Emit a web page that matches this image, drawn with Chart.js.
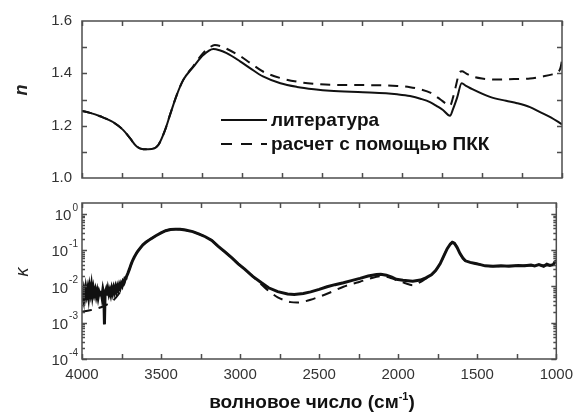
<!DOCTYPE html>
<html>
<head>
<meta charset="utf-8">
<script src="https://cdn.jsdelivr.net/npm/chart.js@4/dist/chart.umd.min.js"></script>
<style>
  body { margin: 0; background: #fff; }
  #wrap { position: relative; width: 580px; height: 416px; font-family: "Liberation Sans", Arial, sans-serif; }
  canvas { position: absolute; left: 0; }
  #chart-n { top: 0; }
  #chart-k { top: 190px; }
  .ytitle { position: absolute; transform: translate(-50%, -50%) rotate(-90deg); color: #222; white-space: nowrap; }
  #title-n { left: 21px; top: 90px; font: italic bold 18px "Liberation Sans", Arial, sans-serif; }
  #title-k { left: 22px; top: 272px; font: italic 18px "Liberation Sans", Arial, sans-serif; }
  #xtitle { position: absolute; left: 0; width: 624px; top: 391px; text-align: center; font: bold 19px "Liberation Sans", Arial, sans-serif; line-height: 22px; color: #111; }
  #xtitle sup { font-size: 11px; line-height: 0; vertical-align: 8px; }
</style>
</head>
<body>
<div id="wrap">
  <canvas id="chart-n" width="580" height="190"></canvas>
  <canvas id="chart-k" width="580" height="226"></canvas>
  <div class="ytitle" id="title-n">n</div>
  <div class="ytitle" id="title-k">κ</div>
  <div id="xtitle">волновое число (см<sup>-1</sup>)</div>
</div>
<script>
// подписи и деления осей
const wavenumberTicks = [4000, 3500, 3000, 2500, 2000, 1500, 1000];
const nTicks = [1.0, 1.2, 1.4, 1.6];
const kappaExponents = [0, -1, -2, -3, -4];
const seriesLabels = ['литература', 'расчет с помощью ПКК'];

// показатель преломления n, литературные данные
const nLitWave = [4000, 3950, 3887, 3804, 3742, 3700, 3658, 3617, 3564, 3523, 3481, 3450, 3408, 3367, 3304, 3242, 3179, 3140, 3096, 3012, 2950, 2869, 2760, 2656, 2550, 2450, 2244, 2100, 2031, 1950, 1880, 1825, 1780, 1744, 1700, 1680, 1656, 1627, 1600, 1575, 1450, 1350, 1281, 1200, 1137, 1070, 1000];
const nLit = [1.256, 1.249, 1.236, 1.213, 1.183, 1.152, 1.120, 1.110, 1.111, 1.126, 1.183, 1.241, 1.317, 1.375, 1.425, 1.470, 1.493, 1.488, 1.477, 1.446, 1.420, 1.388, 1.362, 1.348, 1.339, 1.333, 1.328, 1.324, 1.320, 1.313, 1.302, 1.290, 1.274, 1.260, 1.238, 1.265, 1.306, 1.362, 1.352, 1.344, 1.310, 1.295, 1.286, 1.271, 1.252, 1.232, 1.205];

// n, расчет с помощью ПКК
const nCalcWave = [4000, 3950, 3887, 3804, 3742, 3700, 3658, 3617, 3564, 3523, 3481, 3450, 3408, 3367, 3304, 3242, 3200, 3170, 3130, 3096, 3012, 2950, 2869, 2760, 2656, 2550, 2450, 2244, 2031, 1950, 1880, 1820, 1760, 1720, 1700, 1680, 1660, 1645, 1625, 1600, 1560, 1500, 1400, 1300, 1200, 1120, 1060, 1025, 1010, 1000];
const nCalc = [1.256, 1.249, 1.236, 1.213, 1.183, 1.152, 1.120, 1.110, 1.111, 1.126, 1.183, 1.241, 1.317, 1.375, 1.428, 1.478, 1.500, 1.508, 1.503, 1.494, 1.466, 1.440, 1.407, 1.382, 1.368, 1.360, 1.356, 1.355, 1.352, 1.347, 1.338, 1.325, 1.300, 1.282, 1.276, 1.310, 1.360, 1.398, 1.408, 1.400, 1.388, 1.380, 1.376, 1.378, 1.380, 1.388, 1.396, 1.405, 1.420, 1.450];

// показатель поглощения κ, литературные данные (зашумленный спектр)
const kLitWave = [4000, 3994, 3988, 3982, 3976, 3970, 3964, 3958, 3952, 3946, 3940, 3934, 3928, 3922, 3916, 3910, 3904, 3898, 3892, 3886, 3880, 3874, 3868, 3862, 3858, 3854, 3848, 3842, 3836, 3830, 3824, 3818, 3812, 3806, 3800, 3794, 3788, 3782, 3776, 3770, 3764, 3758, 3752, 3746, 3740, 3734, 3728, 3722, 3716, 3710, 3700, 3690, 3680, 3669, 3650, 3637, 3615, 3596, 3565, 3533, 3500, 3471, 3440, 3408, 3380, 3346, 3300, 3262, 3220, 3179, 3140, 3096, 3050, 3012, 2971, 2920, 2867, 2820, 2762, 2700, 2658, 2600, 2554, 2500, 2450, 2400, 2346, 2290, 2242, 2190, 2137, 2110, 2075, 2040, 2012, 1970, 1908, 1860, 1825, 1790, 1762, 1735, 1710, 1690, 1670, 1658, 1645, 1627, 1610, 1590, 1575, 1545, 1512, 1480, 1450, 1400, 1350, 1300, 1242, 1200, 1160, 1137, 1110, 1080, 1060, 1040, 1020, 1010, 1000];
const kLit = [0.0062, 0.0048, 0.0078, 0.0055, 0.0090, 0.0060, 0.0085, 0.0052, 0.0095, 0.0066, 0.0105, 0.0058, 0.0088, 0.0062, 0.0080, 0.0055, 0.0074, 0.0050, 0.0070, 0.0058, 0.0076, 0.0052, 0.0082, 0.0060, 0.0009, 0.0065, 0.0080, 0.0056, 0.0084, 0.0062, 0.0078, 0.0060, 0.0086, 0.0066, 0.0090, 0.0070, 0.0095, 0.0074, 0.0100, 0.0082, 0.0110, 0.0092, 0.0120, 0.0105, 0.0140, 0.0130, 0.0170, 0.0175, 0.0200, 0.0230, 0.030, 0.040, 0.052, 0.065, 0.090, 0.107, 0.140, 0.165, 0.205, 0.250, 0.300, 0.345, 0.370, 0.380, 0.378, 0.362, 0.325, 0.280, 0.235, 0.185, 0.130, 0.090, 0.060, 0.042, 0.030, 0.019, 0.0128, 0.0092, 0.0072, 0.0062, 0.0060, 0.0064, 0.0071, 0.0083, 0.0098, 0.0112, 0.0127, 0.0147, 0.0167, 0.0195, 0.0213, 0.0218, 0.0205, 0.0180, 0.0158, 0.0148, 0.0140, 0.0150, 0.0172, 0.0210, 0.0280, 0.0420, 0.0720, 0.110, 0.148, 0.165, 0.155, 0.118, 0.082, 0.060, 0.051, 0.046, 0.043, 0.040, 0.037, 0.036, 0.037, 0.036, 0.038, 0.037, 0.039, 0.037, 0.040, 0.036, 0.041, 0.038, 0.040, 0.046, 0.052];

// κ, расчет с помощью ПКК
const kCalcWave = [4000, 3950, 3900, 3867, 3830, 3800, 3770, 3745, 3725, 3710, 3700, 3690, 3680, 3669, 3650, 3637, 3615, 3596, 3565, 3533, 3500, 3471, 3440, 3408, 3380, 3346, 3300, 3262, 3220, 3179, 3140, 3096, 3050, 3012, 2971, 2920, 2880, 2840, 2800, 2762, 2720, 2680, 2640, 2600, 2554, 2500, 2450, 2400, 2346, 2290, 2242, 2190, 2137, 2100, 2060, 2012, 1960, 1908, 1860, 1825, 1790, 1762, 1735, 1710, 1690, 1670, 1658, 1645, 1627, 1610, 1590, 1575, 1545, 1512, 1480, 1450, 1400, 1300, 1200, 1100, 1000];
const kCalc = [0.0020, 0.0022, 0.0025, 0.0028, 0.0034, 0.0042, 0.0060, 0.0090, 0.0150, 0.0220, 0.030, 0.040, 0.052, 0.065, 0.090, 0.107, 0.140, 0.165, 0.205, 0.250, 0.300, 0.345, 0.370, 0.380, 0.378, 0.362, 0.325, 0.280, 0.235, 0.185, 0.130, 0.090, 0.060, 0.042, 0.030, 0.019, 0.0130, 0.0090, 0.0065, 0.0050, 0.0042, 0.0037, 0.0036, 0.0038, 0.0043, 0.0052, 0.0063, 0.0078, 0.0098, 0.0118, 0.0135, 0.0160, 0.0185, 0.0192, 0.0180, 0.0150, 0.0125, 0.0108, 0.0132, 0.0165, 0.0210, 0.0280, 0.0420, 0.0720, 0.110, 0.148, 0.165, 0.155, 0.118, 0.082, 0.060, 0.051, 0.046, 0.043, 0.040, 0.037, 0.036, 0.037, 0.038, 0.038, 0.039];

const FONT = '"Liberation Sans", Arial, sans-serif';
const AXIS_COLOR = '#4d4d4d';
const DASH = [10, 7];

const toPoints = (xs, ys) => xs.map((x, i) => ({ x, y: ys[i] }));

// рамка и внутренние засечки по всем четырем сторонам
const frameTicks = {
    id: 'frameTicks',
    afterDatasetsDraw(chart, args, opts) {
        const { ctx, chartArea: a, scales: { x, y } } = chart;
        ctx.save();
        ctx.strokeStyle = AXIS_COLOR;
        ctx.lineWidth = 1.5;
        ctx.beginPath();
        for (let v = 1000; v <= 4000; v += 250) {
            const px = Math.round(x.getPixelForValue(v)) + 0.5;
            ctx.moveTo(px, a.top); ctx.lineTo(px, a.top + 5);
            ctx.moveTo(px, a.bottom); ctx.lineTo(px, a.bottom - 5);
        }
        opts.yMarks.forEach(([v, len]) => {
            const py = Math.round(y.getPixelForValue(v)) + 0.5;
            ctx.moveTo(a.left, py); ctx.lineTo(a.left + len, py);
            ctx.moveTo(a.right, py); ctx.lineTo(a.right - len, py);
        });
        ctx.stroke();
        ctx.strokeRect(a.left, a.top, a.width, a.height);
        ctx.restore();
    }
};

// подписи 10^k для логарифмической оси
const powerLabels = {
    id: 'powerLabels',
    afterDraw(chart) {
        const { ctx, scales: { y } } = chart;
        ctx.save();
        ctx.fillStyle = '#333';
        ctx.textBaseline = 'middle';
        kappaExponents.forEach(k => {
            const py = y.getPixelForValue(Math.pow(10, k));
            const exp = String(k);
            ctx.font = `10px ${FONT}`;
            const ew = ctx.measureText(exp).width;
            ctx.textAlign = 'left';
            ctx.fillText(exp, 78 - ew, py - 6);
            ctx.font = `15px ${FONT}`;
            ctx.textAlign = 'right';
            ctx.fillText('10', 77 - ew, py + 2);
        });
        ctx.restore();
    }
};

// легенда внутри верхней панели
const insideLegend = {
    id: 'insideLegend',
    afterDraw(chart) {
        const { ctx } = chart;
        ctx.save();
        chart.data.datasets.forEach((ds, i) => {
            const y = 120 + i * 24;
            ctx.strokeStyle = '#111';
            ctx.lineWidth = 2;
            ctx.setLineDash(ds.borderDash ? [11, 9] : []);
            ctx.beginPath();
            ctx.moveTo(221, y); ctx.lineTo(267, y);
            ctx.stroke();
            ctx.setLineDash([]);
            ctx.fillStyle = '#111';
            ctx.font = `bold 19px ${FONT}`;
            ctx.textBaseline = 'middle';
            ctx.fillText(ds.label, 271, y + 1);
        });
        ctx.restore();
    }
};

const common = {
    responsive: false,
    animation: false,
    devicePixelRatio: 1,
    plugins: { legend: { display: false }, tooltip: { enabled: false } },
    elements: { point: { radius: 0 } }
};

const xBase = {
    type: 'linear', min: 1000, max: 4000, reverse: true,
    afterBuildTicks: s => { s.ticks = wavenumberTicks.map(v => ({ value: v })); },
    grid: { display: false, drawTicks: false },
    border: { display: false }
};

// ширина левой оси фиксирована, отступы от подписей не сдвигают область графика
const fixLeftAxis = s => {
    s.width = 82;
    s.paddingTop = 0;
    s.paddingBottom = 0;
};

new Chart(document.getElementById('chart-n'), {
    type: 'line',
    data: {
        datasets: [
            { label: seriesLabels[0], data: toPoints(nLitWave, nLit), borderColor: '#111', borderWidth: 2, cubicInterpolationMode: 'monotone' },
            { label: seriesLabels[1], data: toPoints(nCalcWave, nCalc), borderColor: '#111', borderWidth: 2, borderDash: DASH, cubicInterpolationMode: 'monotone' }
        ]
    },
    options: {
        ...common,
        layout: { padding: { left: 0, top: 21, right: 18, bottom: 12 } },
        scales: {
            x: { ...xBase, ticks: { display: false }, afterFit: s => { s.height = 0; } },
            y: {
                type: 'linear', min: 1.0, max: 1.6,
                afterBuildTicks: s => { s.ticks = nTicks.map(v => ({ value: v })); },
                afterFit: fixLeftAxis,
                ticks: { callback: v => v.toFixed(1), font: { size: 15, family: FONT }, color: '#333', padding: 10 },
                grid: { display: false, drawTicks: false },
                border: { display: false }
            }
        },
        plugins: {
            ...common.plugins,
            frameTicks: { yMarks: [[1.1, 5], [1.2, 5], [1.3, 5], [1.4, 5], [1.5, 5]] }
        }
    },
    plugins: [frameTicks, insideLegend]
});

// засечки логарифмической оси: декады и промежуточные значения
const kMarks = [];
for (let k = -4; k <= 0; k++) {
    kMarks.push([Math.pow(10, k), 5]);
    for (let m = 2; m <= 9; m++) {
        const v = m * Math.pow(10, k);
        if (v < 2) kMarks.push([v, 3]);
    }
}

new Chart(document.getElementById('chart-k'), {
    type: 'line',
    data: {
        datasets: [
            { label: seriesLabels[0], data: toPoints(kLitWave, kLit), borderColor: '#111', borderWidth: 3, tension: 0 },
            { label: seriesLabels[1], data: toPoints(kCalcWave, kCalc), borderColor: '#111', borderWidth: 2, borderDash: DASH, cubicInterpolationMode: 'monotone' }
        ]
    },
    options: {
        ...common,
        layout: { padding: { left: 0, top: 13, right: 18, bottom: 0 } },
        scales: {
            x: {
                ...xBase,
                afterFit: s => { s.height = 57; },
                ticks: { callback: v => String(v), font: { size: 15, family: FONT }, color: '#333', padding: 7, maxRotation: 0 }
            },
            y: {
                type: 'logarithmic', min: 1e-4, max: 2,
                afterFit: fixLeftAxis,
                ticks: { display: false },
                grid: { display: false, drawTicks: false },
                border: { display: false }
            }
        },
        plugins: {
            ...common.plugins,
            frameTicks: { yMarks: kMarks }
        }
    },
    plugins: [frameTicks, powerLabels]
});
</script>
</body>
</html>
